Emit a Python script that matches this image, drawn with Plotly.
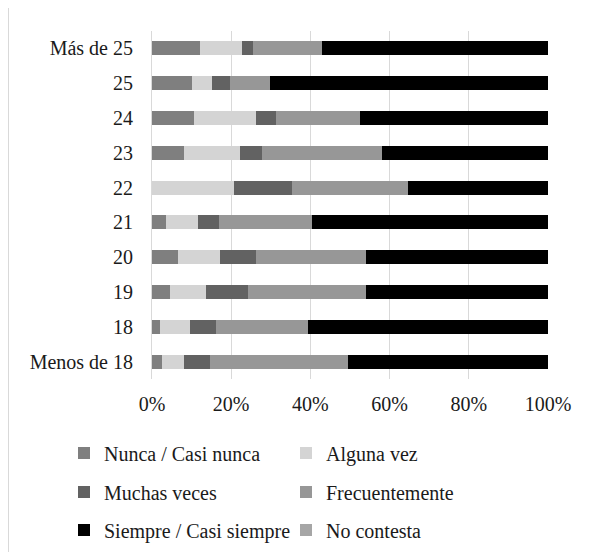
import plotly.graph_objects as go

categories = ["Más de 25", "25", "24", "23", "22", "21", "20", "19", "18", "Menos de 18"]

nunca = [12.2, 10.2, 10.7, 8.2, 0.0, 3.6, 6.6, 4.6, 2.1, 2.6]
alguna = [10.4, 5.0, 15.6, 14.1, 20.8, 8.1, 10.6, 9.1, 7.6, 5.6]
muchas = [2.8, 4.6, 5.1, 5.6, 14.6, 5.1, 9.1, 10.6, 6.5, 6.5]
frecuente = [17.6, 10.1, 21.2, 30.2, 29.3, 23.7, 27.8, 29.8, 23.2, 34.8]
siempre = [57.0, 70.1, 47.4, 41.9, 35.3, 59.5, 45.9, 45.9, 60.6, 50.5]
no_contesta = [0, 0, 0, 0, 0, 0, 0, 0, 0, 0]

x_ticks = [0, 20, 40, 60, 80, 100]
x_tick_labels = ["0%", "20%", "40%", "60%", "80%", "100%"]

series = [
    ("Nunca / Casi nunca", nunca, "#7f7f7f", "legend"),
    ("Alguna vez", alguna, "#d4d4d4", "legend"),
    ("Muchas veces", muchas, "#626262", "legend2"),
    ("Frecuentemente", frecuente, "#979797", "legend2"),
    ("Siempre / Casi siempre", siempre, "#000000", "legend3"),
    ("No contesta", no_contesta, "#a6a6a6", "legend3"),
]

FONT = "Liberation Serif"
FS = 20
TXT = "#1a1a1a"

fig = go.Figure()
for name, vals, color, leg in series:
    fig.add_trace(go.Bar(
        y=categories, x=vals, name=name, orientation="h",
        marker=dict(color=color, line=dict(width=0)),
        legend=leg,
    ))

# page offset of the figure inside the browser body
OFF = 8
W, H = 580, 544
L = 152 - OFF
T = 31 - OFF
R = W - (548 - OFF)
B = H - (379 - OFF)
plot_w = W - L - R
plot_h = H - T - B


def px_x(x_page):
    return (x_page - OFF - L) / plot_w


def px_y(y_page):
    return (H - B - (y_page - OFF)) / plot_h


leg_common = dict(
    orientation="h", xanchor="left", yanchor="middle",
    font=dict(family=FONT, size=FS, color=TXT),
    entrywidth=177, entrywidthmode="pixels",
    traceorder="normal",
    bgcolor="rgba(0,0,0,0)", itemclick=False, itemdoubleclick=False,
)

fig.update_layout(
    width=W, height=H,
    margin=dict(l=L, r=R, t=T, b=B, autoexpand=False),
    barmode="stack", bargap=0.6,
    plot_bgcolor="white", paper_bgcolor="white",
    font=dict(family=FONT, size=FS, color=TXT),
    showlegend=True,
    legend=dict(x=px_x(64), y=px_y(453), **leg_common),
    legend2=dict(x=px_x(64), y=px_y(492), **leg_common),
    legend3=dict(x=px_x(64), y=px_y(530), **leg_common),
    xaxis=dict(
        range=[0, 100], tickvals=x_ticks, ticktext=x_tick_labels,
        showgrid=True, gridcolor="#d9d9d9", gridwidth=1,
        zeroline=False, showline=False, ticks="",
        ticklabelstandoff=11, automargin=False,
        tickfont=dict(family=FONT, size=FS, color=TXT),
    ),
    yaxis=dict(
        categoryorder="array", categoryarray=categories,
        autorange="reversed",
        showgrid=False, zeroline=False,
        showline=True, linecolor="#d9d9d9", linewidth=1,
        ticks="", ticklabelstandoff=14, automargin=False,
        tickfont=dict(family=FONT, size=FS, color=TXT),
    ),
    shapes=[dict(
        type="line", xref="paper", yref="paper",
        x0=px_x(8.5), x1=px_x(8.5), y0=px_y(8), y1=px_y(552),
        line=dict(color="#d9d9d9", width=1),
    )],
)

fig.write_html("out.html")
